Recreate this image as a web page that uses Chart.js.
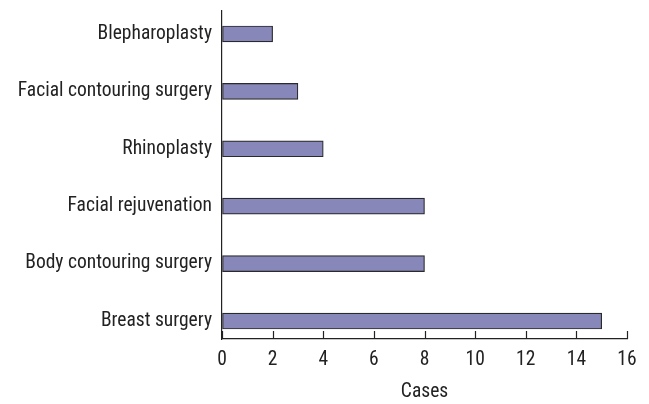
<!DOCTYPE html>
<html>
<head>
<meta charset="utf-8">
<script src="https://cdn.jsdelivr.net/npm/chart.js@4"></script>
<style>
  html, body { margin: 0; padding: 0; background: #fff; }
  #wrap { width: 649px; height: 404px; }
</style>
</head>
<body>
<div id="wrap"><canvas id="chart"></canvas></div>
<script>
// top-to-bottom order as in the picture
const categories = ['Blepharoplasty', 'Facial contouring surgery', 'Rhinoplasty', 'Facial rejuvenation', 'Body contouring surgery', 'Breast surgery'];
const cases = [2, 3, 4, 8, 8, 15];
const xTicks = [0, 2, 4, 6, 8, 10, 12, 14, 16];

const fontFamily = "'Liberation Sans Narrow', 'Roboto Condensed', 'Liberation Sans', sans-serif";

const points = cases.map((v, i) => ({ x: v, y: i }));

// short tick marks pointing up into the plot, like the original
const innerTicks = {
  id: 'innerTicks',
  afterDraw(chart) {
    const ctx = chart.ctx, xs = chart.scales.x, bottom = chart.chartArea.bottom;
    ctx.save();
    ctx.strokeStyle = '#222';
    ctx.lineWidth = 1.2;
    xs.ticks.forEach(t => {
      const px = Math.round(xs.getPixelForValue(t.value)) + 0.5;
      ctx.beginPath();
      ctx.moveTo(px, bottom);
      ctx.lineTo(px, bottom - 8);
      ctx.stroke();
    });
    ctx.restore();
  }
};

new Chart(document.getElementById('chart'), {
  type: 'bar',
  data: {
    datasets: [{
      data: points,
      backgroundColor: '#8787b9',
      borderColor: '#2a2a2a',
      borderWidth: 1.2,
      borderSkipped: false,
      barThickness: 16
    }]
  },
  plugins: [innerTicks],
  options: {
    indexAxis: 'y',
    responsive: true,
    maintainAspectRatio: false,
    animation: false,
    layout: { padding: { top: 11, right: 22, left: 0, bottom: 0 } },
    plugins: { legend: { display: false }, tooltip: { enabled: false } },
    scales: {
      x: {
        type: 'linear',
        min: 0,
        max: 16,
        afterBuildTicks: (s) => { s.ticks = xTicks.map(v => ({ value: v })); },
        afterFit: (s) => { s.height = 65; },
        grid: { drawOnChartArea: false, drawTicks: false },
        border: { display: true, color: '#222', width: 1.2 },
        ticks: { color: '#222', padding: 9, font: { family: fontFamily, size: 19.5 }, maxRotation: 0 },
        title: { display: true, text: 'Cases', color: '#222', font: { family: fontFamily, size: 19.5 }, padding: { top: 3, bottom: 0 } }
      },
      y: {
        type: 'linear',
        reverse: true,
        offset: false,
        min: -0.4,
        max: 5.313,
        afterBuildTicks: (s) => { s.ticks = categories.map((c, i) => ({ value: i })); },
        afterFit: (s) => { s.width = 222; s.paddingTop = 0; s.paddingBottom = 0; },
        grid: { display: false, drawTicks: false },
        border: { display: true, color: '#222', width: 1.2 },
        ticks: {
          color: '#222',
          padding: 10,
          font: { family: fontFamily, size: 19.5 },
          callback: (v) => categories[v]
        }
      }
    }
  }
});
</script>
</body>
</html>
